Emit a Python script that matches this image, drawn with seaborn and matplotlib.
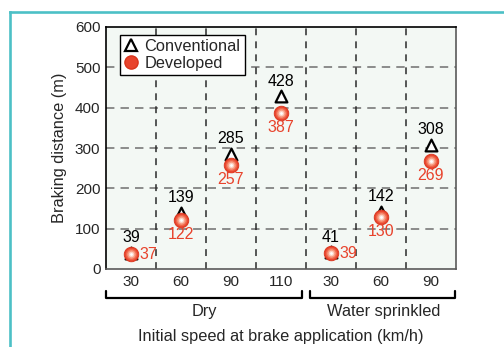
import numpy as np
import pandas as pd
import matplotlib
matplotlib.use("Agg")
import matplotlib.pyplot as plt
from matplotlib.lines import Line2D
import matplotlib.transforms as mtransforms
import seaborn as sns

# Braking test data
speeds = ["30", "60", "90", "110", "30", "60", "90"]
conditions = ["Dry", "Dry", "Dry", "Dry", "Water sprinkled", "Water sprinkled", "Water sprinkled"]
conventional = [39, 139, 285, 428, 41, 142, 308]
developed = [37, 122, 257, 387, 39, 130, 269]
y_ticks = [0, 100, 200, 300, 400, 500, 600]

RED = "#e8432c"
TEAL = "#4cc0c6"
FS_TICK = 11
FS_VAL = 11.5
FS_LAB = 11.8

sns.set_style("white")
plt.rcParams["font.family"] = ["Liberation Sans", "DejaVu Sans"]
plt.rcParams["font.size"] = FS_TICK

df = pd.DataFrame({
    "pos": np.arange(len(speeds)),
    "speed": speeds,
    "condition": conditions,
    "Conventional": conventional,
    "Developed": developed,
})

fig = plt.figure(figsize=(5.04, 3.47), dpi=100)
fig.patch.set_facecolor("white")
ax = fig.add_axes([106 / 504, 1 - 269 / 347, 350 / 504, 242 / 347])
ax.set_facecolor("#f3f8f4")

# grid: gray dashed horizontals, dark dashed separators between columns
for yv in y_ticks[1:-1]:
    ax.axhline(yv, color="#6e6e6e", lw=1.1, ls=(0, (5.5, 4)), zorder=1)
for xv in np.arange(0.5, len(speeds) - 1, 1.0):
    ax.axvline(xv, color="#2a2a2a", lw=1.1, ls=(0, (4.5, 4)), zorder=1)

# conventional: open triangles
sns.scatterplot(data=df, x="pos", y="Conventional", marker="^", s=72,
                facecolor="white", edgecolor="black", linewidth=1.6,
                ax=ax, zorder=3, legend=False)

# developed: shaded red spheres
sns.scatterplot(data=df, x="pos", y="Developed", marker="o", s=110,
                color=RED, edgecolor="#d9341c", linewidth=0.6,
                ax=ax, zorder=4, legend=False)
for s, c in [(68, "#f0664a"), (38, "#f79a80"), (16, "#fcd2c3"), (4, "#ffffff")]:
    ax.scatter(df["pos"], df["Developed"], s=s, color=c, lw=0, zorder=5)

# value labels
for i, (cv, dv) in enumerate(zip(conventional, developed)):
    ax.annotate(str(cv), (i, cv), xytext=(0, 11), textcoords="offset points",
                ha="center", va="center", color="black", fontsize=FS_VAL, zorder=6)
    if speeds[i] == "30":
        ax.annotate(str(dv), (i, dv), xytext=(12.5, 0), textcoords="offset points",
                    ha="center", va="center", color=RED, fontsize=FS_VAL, zorder=6)
    else:
        ax.annotate(str(dv), (i, dv), xytext=(0, -10.5), textcoords="offset points",
                    ha="center", va="center", color=RED, fontsize=FS_VAL, zorder=6)

ax.set_xlim(-0.5, len(speeds) - 0.5)
ax.set_ylim(0, 600)
ax.set_yticks(y_ticks)
ax.set_xticks(df["pos"])
ax.set_xticklabels(speeds)
ax.tick_params(axis="y", direction="in", length=4, width=1, pad=4, labelsize=FS_TICK)
ax.tick_params(axis="x", length=0, pad=4, labelsize=FS_TICK)
ax.set_xlabel("")
ax.set_ylabel("Braking distance (m)", fontsize=FS_LAB, labelpad=6)

for side in ["left", "top"]:
    ax.spines[side].set_color("black")
    ax.spines[side].set_linewidth(1.2)
for side in ["right", "bottom"]:
    ax.spines[side].set_color("#5a5a5a")
    ax.spines[side].set_linewidth(1.2)

# legend
handles = [
    Line2D([], [], marker="^", ls="none", markersize=8.5, markerfacecolor="white",
           markeredgecolor="black", markeredgewidth=1.6, label="Conventional"),
    Line2D([], [], marker="o", ls="none", markersize=9.5, markerfacecolor=RED,
           markeredgecolor="#d9341c", label="Developed"),
]
leg = ax.legend(handles=handles, loc="upper left", bbox_to_anchor=(0.04, 0.967),
                borderaxespad=0, frameon=True, fancybox=False, edgecolor="black",
                framealpha=1, handlelength=0.8, handletextpad=0.45,
                borderpad=0.25, labelspacing=0.1, fontsize=FS_LAB)
leg.get_frame().set_linewidth(1.0)
leg.set_zorder(10)

# condition brackets under the speed labels
trans = mtransforms.blended_transform_factory(ax.transData, ax.transAxes)
y_top, y_bot = -0.091, -0.121
spans = {"Dry": (-0.5, 3.42), "Water sprinkled": (3.57, 6.48)}
for cond, (x0, x1) in spans.items():
    ax.add_line(Line2D([x0, x0, x1, x1], [y_top, y_bot, y_bot, y_top],
                       transform=trans, color="black", lw=1.6, clip_on=False))
    xc = (x0 + x1) / 2 if cond == "Dry" else (x0 + x1) / 2 + 0.03
    ax.text(xc, -0.174, cond, transform=trans, ha="center", va="center",
            fontsize=FS_LAB)

fig.text(281 / 504, 1 - 336 / 347, "Initial speed at brake application (km/h)",
         ha="center", va="center", fontsize=FS_LAB)

# panel frame
fig.add_artist(Line2D([10 / 504, 10 / 504], [0, 1 - 12 / 347],
                      transform=fig.transFigure, color=TEAL, lw=1.9,
                      solid_capstyle="projecting"))
fig.add_artist(Line2D([10 / 504, 1], [1 - 12 / 347, 1 - 12 / 347],
                      transform=fig.transFigure, color=TEAL, lw=1.9,
                      solid_capstyle="projecting"))

fig.savefig("out.png", dpi=100)
